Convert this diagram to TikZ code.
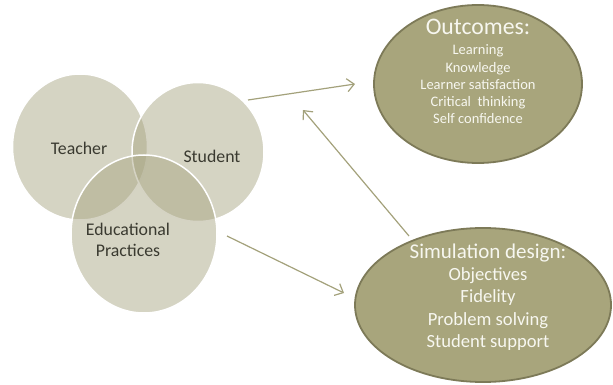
\documentclass[tikz,border=0pt]{standalone}
\usepackage{fontspec}
\setmainfont{Carlito}
\usetikzlibrary{shapes.geometric,arrows.meta}
\definecolor{venn}{HTML}{A6A380}
\definecolor{oval}{HTML}{A8A57C}
\definecolor{ovalline}{HTML}{7D7A58}
\definecolor{arrowc}{HTML}{A3A17B}
\definecolor{txt}{HTML}{3A3A30}
\definecolor{ovaltxt}{HTML}{F7F7F0}
\begin{document}
\begin{tikzpicture}[x=1pt,y=-1pt,
  venncircle/.style={ellipse, fill=venn, fill opacity=0.47, draw=white, draw opacity=1, line width=1.5pt, inner sep=0pt},
  bigoval/.style={ellipse, fill=oval, draw=ovalline, line width=1.8pt, inner sep=0pt},
  vennlabel/.style={anchor=base, inner sep=0pt, text=txt, font=\fontsize{17.8}{20}\selectfont},
  headtxt/.style={anchor=base, inner sep=0pt, text=ovaltxt},
  itemtxt/.style={anchor=base, inner sep=0pt, text=ovaltxt},
  conn/.style={draw=arrowc, line width=1.2pt, -{Straight Barb[length=7pt,width=13pt,line width=1.2pt]}}
]
\useasboundingbox (0,0) rectangle (613,385);

% Venn circles
\node[venncircle, minimum width=135pt, minimum height=146pt] (teacher) at (80,147) {};
\node[venncircle, minimum width=132pt, minimum height=139pt] (student) at (198,152) {};
\node[venncircle, minimum width=146pt, minimum height=158pt] (edu) at (144,234) {};

\node[vennlabel] (tlab) at (79,154) {Teacher};
\node[vennlabel] (slab) at (212,163) {Student};
\node[vennlabel] (elab1) at (128,235) {Educational};
\node[vennlabel] (elab2) at (128,256) {Practices};

% Outcomes oval
\node[bigoval, minimum width=208pt, minimum height=158pt] (outcomes) at (478,84) {};
\node[headtxt, font=\fontsize{23.7}{26}\selectfont] (ohead) at (478,35) {Outcomes:};
\node[itemtxt, font=\fontsize{14.5}{17}\selectfont] (o1) at (478,55) {Learning};
\node[itemtxt, font=\fontsize{14.5}{17}\selectfont] (o2) at (478,72.5) {Knowledge};
\node[itemtxt, font=\fontsize{14.5}{17}\selectfont] (o3) at (478,90) {Learner satisfaction};
\node[itemtxt, font=\fontsize{14.5}{17}\selectfont] (o4) at (478,107) {Critical\ \ thinking};
\node[itemtxt, font=\fontsize{14.5}{17}\selectfont] (o5) at (478,124) {Self confidence};

% Simulation design oval
\node[bigoval, minimum width=256pt, minimum height=154pt] (sim) at (483,305) {};
\node[headtxt, font=\fontsize{21}{24}\selectfont] (shead) at (488,258) {Simulation design:};
\node[itemtxt, font=\fontsize{18.6}{21}\selectfont] (s1) at (488,280.5) {Objectives};
\node[itemtxt, font=\fontsize{18.6}{21}\selectfont] (s2) at (488,302.5) {Fidelity};
\node[itemtxt, font=\fontsize{18.6}{21}\selectfont] (s3) at (488,325) {Problem solving};
\node[itemtxt, font=\fontsize{18.6}{21}\selectfont] (s4) at (488,347) {Student support};

% Connectors
\coordinate (a1s) at (248,100);
\coordinate (a1e) at (355,84);
\coordinate (a2s) at (409,236);
\coordinate (a2e) at (303,110);
\coordinate (a3s) at (227,236);
\coordinate (a3e) at (344,293);
\draw[conn] (a1s) -- (a1e);
\draw[conn] (a2s) -- (a2e);
\draw[conn] (a3s) -- (a3e);
\end{tikzpicture}
\end{document}
